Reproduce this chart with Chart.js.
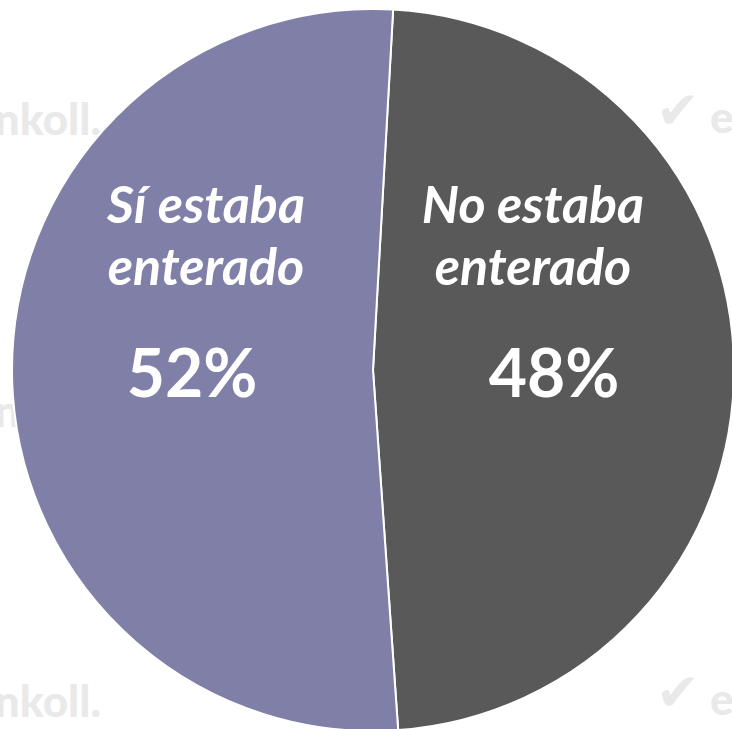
<!DOCTYPE html>
<html lang="es">
<head>
  <meta charset="UTF-8" />
  <title>Enterado</title>
  <script src="https://cdn.jsdelivr.net/npm/chart.js"></script>
  <style>
    html, body { margin: 0; width: 732px; height: 729px; overflow: hidden; background: #fff; }
    .wm { position: absolute; font-family: Lato, sans-serif; font-weight: 900; font-size: 44px; color: #e9e9e9; line-height: 1; white-space: nowrap; }
    .mark { font-family: "DejaVu Sans", sans-serif; font-size: 52px; }
    #wrap { position: absolute; left: -7px; top: -10px; width: 760px; height: 760px; }
  </style>
</head>
<body>
<div class="wm" style="left:-30px; top:96px;">Enkoll.</div>
<div class="wm" style="left:-30px; top:388px;">Enkoll.</div>
<div class="wm" style="left:-30px; top:678px;">Enkoll.</div>
<div class="wm mark" style="left:656px; top:84px;">✔</div>
<div class="wm" style="left:710px; top:94px;">e</div>
<div class="wm mark" style="left:656px; top:666px;">✔</div>
<div class="wm" style="left:710px; top:676px;">e</div>
<div id="wrap"><canvas id="pie"></canvas></div>
<script>
const categories = ['No estaba enterado', 'Sí estaba enterado'];
const values = [48, 52];
const labelLines = [['No estaba', 'enterado'], ['Sí estaba', 'enterado']];
const colors = ['#595959', '#7f7fa8'];

const labelPlugin = {
  id: 'sliceLabels',
  afterDatasetsDraw(chart) {
    const ctx = chart.ctx;
    const arc = chart.getDatasetMeta(0).data[0];
    const cx = arc.x, cy = arc.y;
    // text anchors, relative to the pie centre
    const spots = [
      { x: cx + 160, y: cy - 147, px: cx + 181 },
      { x: cx - 167, y: cy - 147, px: cx - 181 }
    ];
    ctx.save();
    ctx.fillStyle = '#ffffff';
    ctx.textAlign = 'center';
    ctx.textBaseline = 'alphabetic';
    values.forEach((v, i) => {
      const s = spots[i];
      ctx.font = 'italic bold 52px Lato, sans-serif';
      labelLines[i].forEach((line, j) => ctx.fillText(line, s.x, s.y + j * 62));
      ctx.font = 'bold 66px Lato, sans-serif';
      ctx.fillText(v + '%', s.px, cy + 27);
    });
    ctx.restore();
  }
};

new Chart(document.getElementById('pie'), {
  type: 'pie',
  data: {
    labels: categories,
    datasets: [{
      data: values,
      backgroundColor: colors,
      borderColor: '#ffffff',
      borderWidth: 2
    }]
  },
  options: {
    responsive: true,
    maintainAspectRatio: false,
    animation: false,
    rotation: 3.2,
    layout: { padding: 18 },
    plugins: { legend: { display: false }, tooltip: { enabled: false } }
  },
  plugins: [labelPlugin]
});
</script>
</body>
</html>
